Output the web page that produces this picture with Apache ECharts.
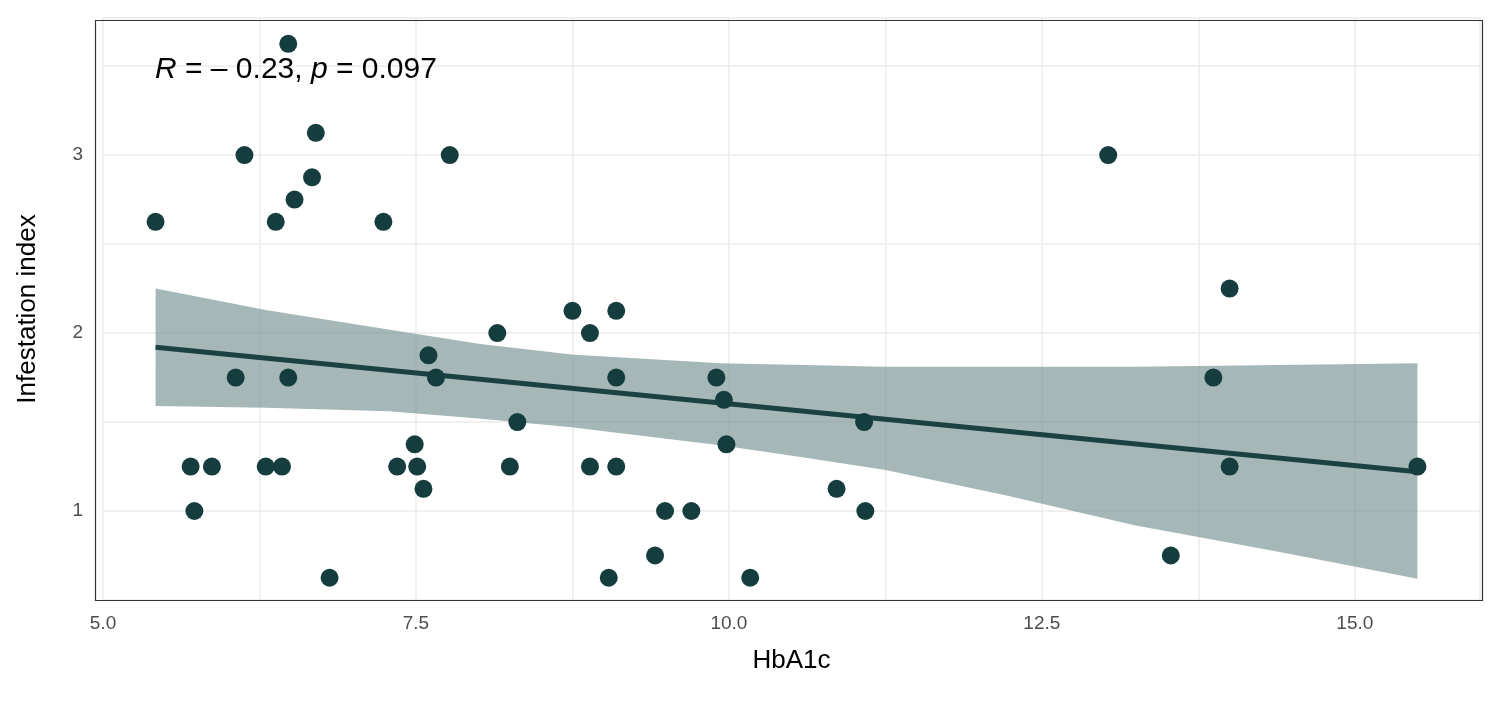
<!DOCTYPE html>
<html>
<head>
<meta charset="utf-8">
<script src="https://cdn.jsdelivr.net/npm/echarts@6/dist/echarts.min.js"></script>
<style>
  html, body { margin: 0; padding: 0; background: #fff; }
  #chart-container { width: 1500px; height: 710px; }
</style>
</head>
<body>
<div id="chart-container"></div>
<script>
const hba1c = [5.42, 5.70, 5.73, 5.87, 6.06, 6.13, 6.38, 6.30, 6.43, 6.48, 6.48, 6.53, 6.67, 6.70, 6.81,
  7.24, 7.35, 7.49, 7.51, 7.56, 7.60, 7.66, 7.77, 8.15, 8.25, 8.31, 8.75, 8.89, 8.89, 9.04,
  9.10, 9.10, 9.10, 9.41, 9.49, 9.70, 9.90, 9.96, 9.98, 10.17, 11.08, 11.09, 10.86, 13.03,
  13.53, 13.87, 14.0, 14.0, 15.5];
const infestation = [2.625, 1.25, 1.0, 1.25, 1.75, 3.0, 2.625, 1.25, 1.25, 3.625, 1.75, 2.75, 2.875, 3.125, 0.625,
  2.625, 1.25, 1.375, 1.25, 1.125, 1.875, 1.75, 3.0, 2.0, 1.25, 1.5, 2.125, 2.0, 1.25, 0.625,
  2.125, 1.75, 1.25, 0.75, 1.0, 1.0, 1.75, 1.625, 1.375, 0.625, 1.5, 1.0, 1.125, 3.0,
  0.75, 1.75, 2.25, 1.25, 1.25];
const fitX = [5.42, 15.5];
const fitY = [1.92, 1.22];
const bandX = [5.42, 6.3, 7.28, 8.0, 8.74, 9.93, 10.6, 11.25, 12.2, 13.24, 14.4, 15.5];
const bandUpper = [2.25, 2.13, 2.02, 1.94, 1.88, 1.83, 1.82, 1.81, 1.81, 1.81, 1.82, 1.83];
const bandLower = [1.59, 1.58, 1.56, 1.52, 1.47, 1.37, 1.30, 1.23, 1.09, 0.92, 0.77, 0.62];

const points = hba1c.map((x, i) => [x, infestation[i]]);
const bandPoly = bandX.map((x, i) => [x, bandUpper[i]])
  .concat(bandX.map((x, i) => [x, bandLower[i]]).reverse());

const chart = echarts.init(document.getElementById('chart-container'), null, { renderer: 'canvas' });

const axisText = { color: '#4d4d4d', fontSize: 19, fontFamily: 'Liberation Sans' };
const gridLine = { show: true, lineStyle: { color: '#ebebeb', width: 1.5 } };

chart.setOption({
  animation: false,
  grid: { left: 103, right: 20, top: 18, bottom: 110 },
  xAxis: {
    type: 'value', min: 5, max: 16, interval: 1.25,
    name: 'HbA1c', nameLocation: 'middle', nameGap: 48,
    nameTextStyle: { color: '#000', fontSize: 26, fontFamily: 'Liberation Sans' },
    axisLine: { show: false },
    axisTick: { show: false },
    axisLabel: Object.assign({}, axisText, {
      margin: 14,
      formatter: v => (Math.abs(v / 2.5 - Math.round(v / 2.5)) < 1e-6 ? v.toFixed(1) : '')
    }),
    splitLine: gridLine
  },
  yAxis: {
    type: 'value', min: 0.5, max: 3.77, interval: 0.5,
    name: 'Infestation index', nameLocation: 'middle', nameGap: 62,
    nameTextStyle: { color: '#000', fontSize: 26, fontFamily: 'Liberation Sans' },
    axisLine: { show: false },
    axisTick: { show: false },
    axisLabel: Object.assign({}, axisText, {
      margin: 20,
      formatter: v => (Number.isInteger(v) ? String(v) : '')
    }),
    splitLine: gridLine
  },
  graphic: [
    {
      type: 'rect', left: 93, top: 18, z: 100, silent: true,
      shape: { width: 1387, height: 580 },
      style: { fill: 'none', stroke: '#333', lineWidth: 1.2 }
    },
    {
      type: 'text', left: 155, top: 55, z: 100,
      style: {
        text: '{i|R} = \u2013 0.23, {i|p} = 0.097',
        fontSize: 30, fontFamily: 'Liberation Sans', fill: '#000',
        rich: { i: { fontStyle: 'italic', fontSize: 30, fontFamily: 'Liberation Sans' } }
      }
    }
  ],
  series: [
    {
      type: 'custom',
      renderItem: (params, api) => ({
        type: 'polygon',
        shape: { points: bandPoly.map(p => api.coord(p)), smooth: 0 },
        style: { fill: 'rgba(122,148,148,0.67)' }
      }),
      data: [0],
      z: 1,
      silent: true
    },
    {
      type: 'line',
      data: fitX.map((x, i) => [x, fitY[i]]),
      symbol: 'none',
      lineStyle: { color: '#1b4141', width: 5 },
      z: 3
    },
    {
      type: 'scatter',
      data: points,
      symbolSize: 18,
      itemStyle: { color: '#163d3d', opacity: 1 },
      z: 4
    }
  ]
});
</script>
</body>
</html>
